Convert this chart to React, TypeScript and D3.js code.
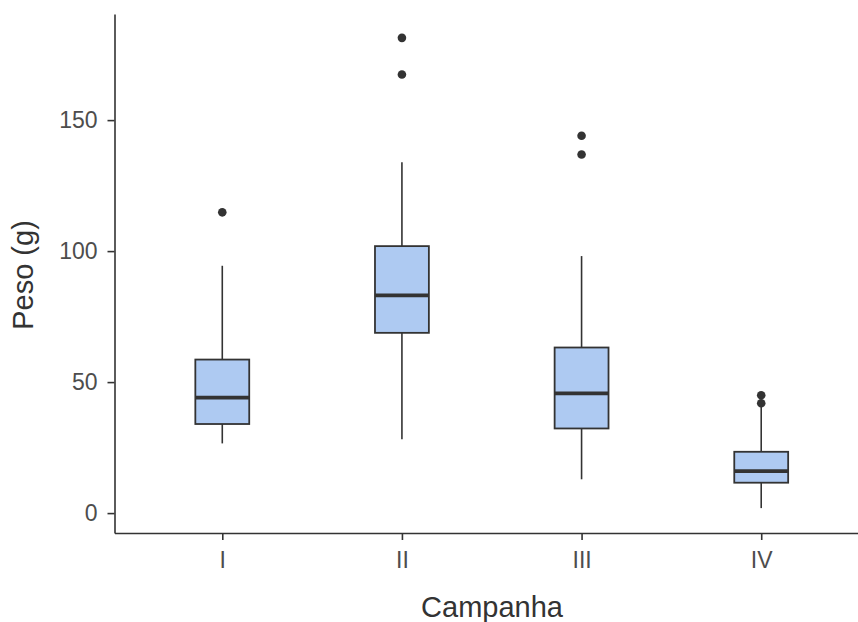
import React, { useEffect, useRef } from 'react';
import * as d3 from 'd3';

const categories = ['I', 'II', 'III', 'IV'];
const whiskerLow = [26.6, 28.2, 12.9, 1.9];
const q1 = [34, 68.8, 32.3, 11.6];
const median = [44.1, 83.1, 45.7, 16];
const q3 = [58.6, 101.9, 63.2, 23.4];
const whiskerHigh = [94.4, 133.9, 98.1, 40.6];
const outliers = [[114.8], [181.4, 167.4], [144, 136.9], [45, 41.9]];
const yTicks = [0, 50, 100, 150];

const width = 858;
const height = 622;

export default function App() {
  const xAxisRef = useRef<SVGGElement>(null);
  const yAxisRef = useRef<SVGGElement>(null);

  // positions on a continuous scale, like ggplot's discrete expansion of 0.6
  const x = d3.scaleLinear().domain([0.4, 4.6]).range([114.5, 869]);
  const y = d3.scaleLinear().domain([-7.6, 190.5]).range([533, 14]);
  const step = x(2) - x(1);
  const boxW = step * 0.3;

  useEffect(() => {
    const xAxis = d3.axisBottom(x)
      .tickValues([1, 2, 3, 4])
      .tickFormat((d) => categories[(d as number) - 1])
      .tickSize(7)
      .tickSizeOuter(0)
      .tickPadding(12);
    const yAxis = d3.axisLeft(y)
      .tickValues(yTicks)
      .tickSize(7)
      .tickSizeOuter(0)
      .tickPadding(10);

    const gx = d3.select(xAxisRef.current!);
    gx.call(xAxis);
    const gy = d3.select(yAxisRef.current!);
    gy.call(yAxis);

    [gx, gy].forEach((g) => {
      g.selectAll('path.domain').attr('stroke', '#333').attr('stroke-width', 1.6);
      g.selectAll('.tick line').attr('stroke', '#333').attr('stroke-width', 1.6);
      g.selectAll('.tick text')
        .attr('fill', '#4d4d4d')
        .style('font-family', '"Liberation Sans", Arial, sans-serif')
        .style('font-size', '23px');
    });
  }, []);

  return (
    <svg
      width={width}
      height={height}
      style={{ position: 'fixed', top: 0, left: 0, background: '#fff' }}
    >
      <g>
        {categories.map((c, i) => {
          const cx = x(i + 1);
          return (
            <g key={c}>
              <line x1={cx} x2={cx} y1={y(q3[i])} y2={y(whiskerHigh[i])} stroke="#333" strokeWidth={1.6} />
              <line x1={cx} x2={cx} y1={y(q1[i])} y2={y(whiskerLow[i])} stroke="#333" strokeWidth={1.6} />
              <rect
                x={cx - boxW / 2}
                y={y(q3[i])}
                width={boxW}
                height={y(q1[i]) - y(q3[i])}
                fill="#aecaf2"
                stroke="#333"
                strokeWidth={1.8}
              />
              <line
                x1={cx - boxW / 2}
                x2={cx + boxW / 2}
                y1={y(median[i])}
                y2={y(median[i])}
                stroke="#333"
                strokeWidth={3.8}
              />
              {outliers[i].map((v, j) => (
                <circle key={j} cx={cx} cy={y(v)} r={4.3} fill="#333" />
              ))}
            </g>
          );
        })}
      </g>
      <g ref={xAxisRef} transform={`translate(0,${y.range()[0]})`} />
      <g ref={yAxisRef} transform={`translate(${x.range()[0]},0)`} />
      <text
        x={492}
        y={617}
        textAnchor="middle"
        fill="#333"
        style={{ fontFamily: '"Liberation Sans", Arial, sans-serif', fontSize: 29 }}
      >
        Campanha
      </text>
      <text
        transform="translate(33,275) rotate(-90)"
        textAnchor="middle"
        fill="#333"
        style={{ fontFamily: '"Liberation Sans", Arial, sans-serif', fontSize: 29 }}
      >
        Peso (g)
      </text>
    </svg>
  );
}
